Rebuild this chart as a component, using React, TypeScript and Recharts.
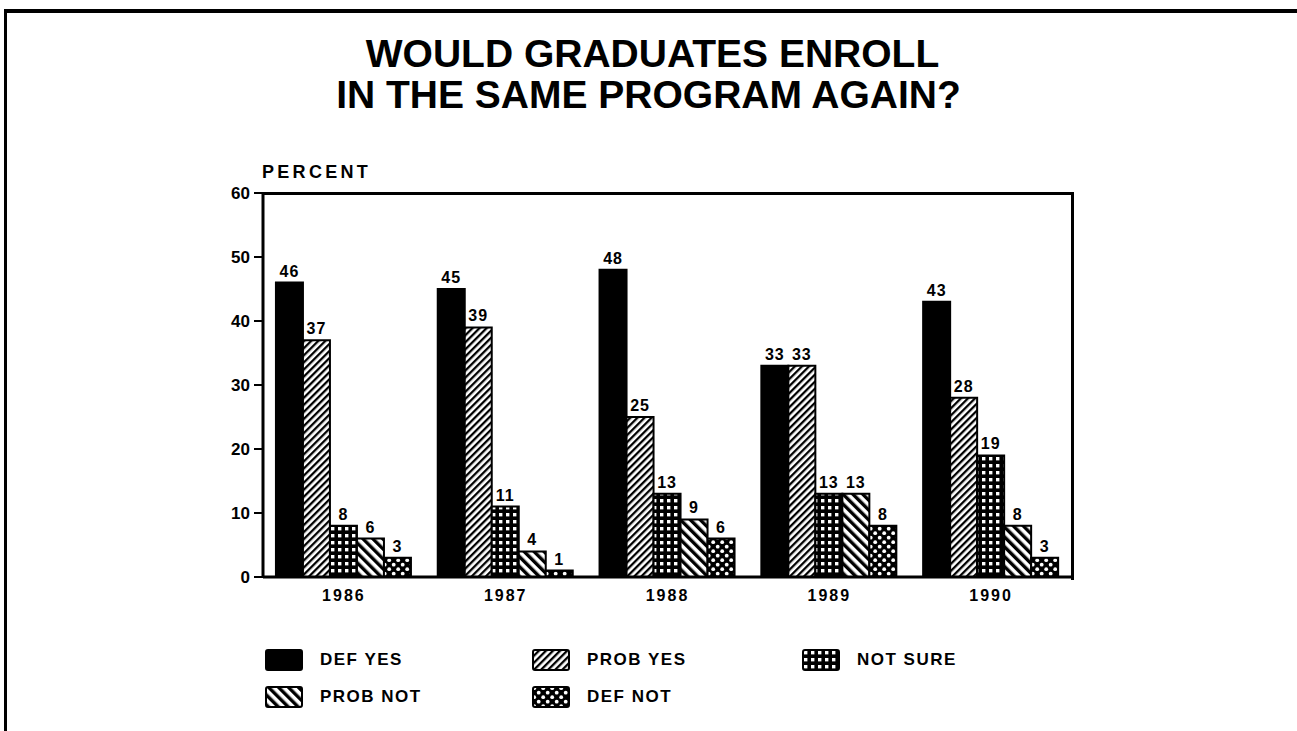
import React from 'react';
import { BarChart, Bar, XAxis, YAxis, LabelList } from 'recharts';

const years = ['1986', '1987', '1988', '1989', '1990'];
const defYes = [46, 45, 48, 33, 43];
const probYes = [37, 39, 25, 33, 28];
const notSure = [8, 11, 13, 13, 19];
const probNot = [6, 4, 9, 13, 8];
const defNot = [3, 1, 6, 8, 3];
const yTicks = [0, 10, 20, 30, 40, 50, 60];

const SERIES = [
  { key: 'defYes', name: 'DEF YES', fill: '#000' },
  { key: 'probYes', name: 'PROB YES', fill: 'url(#pProbYes)' },
  { key: 'notSure', name: 'NOT SURE', fill: 'url(#pNotSure)' },
  { key: 'probNot', name: 'PROB NOT', fill: 'url(#pProbNot)' },
  { key: 'defNot', name: 'DEF NOT', fill: 'url(#pDefNot)' },
];

const data = years.map((y, i) => ({
  year: y,
  defYes: defYes[i],
  probYes: probYes[i],
  notSure: notSure[i],
  probNot: probNot[i],
  defNot: defNot[i],
}));

const FONT = '"Liberation Sans", Arial, Helvetica, sans-serif';

// legend placement, [left, top] of each swatch
const LEGEND_POS: Record<string, [number, number]> = {
  'DEF YES': [265, 649],
  'PROB YES': [532, 649],
  'NOT SURE': [802, 649],
  'PROB NOT': [265, 686],
  'DEF NOT': [532, 686],
};

const Patterns = () => (
  <defs>
    <pattern id="pProbYes" patternUnits="userSpaceOnUse" width="5" height="5" patternTransform="rotate(45)">
      <rect width="5" height="5" fill="#fff" />
      <rect width="2.3" height="5" fill="#000" />
    </pattern>
    <pattern id="pProbNot" patternUnits="userSpaceOnUse" width="7" height="7" patternTransform="rotate(-45)">
      <rect width="7" height="7" fill="#fff" />
      <rect width="3.4" height="7" fill="#000" />
    </pattern>
    <pattern id="pNotSure" patternUnits="userSpaceOnUse" width="7" height="7">
      <rect width="7" height="7" fill="#000" />
      <rect x="2" y="2" width="3.4" height="3.4" fill="#fff" />
    </pattern>
    <pattern id="pDefNot" patternUnits="userSpaceOnUse" width="9" height="9">
      <rect width="9" height="9" fill="#000" />
      <circle cx="2.2" cy="2.2" r="1.9" fill="#fff" />
      <circle cx="6.7" cy="6.7" r="1.9" fill="#fff" />
    </pattern>
  </defs>
);

const labelStyle = { fontSize: 16, fontWeight: 700, fill: '#000', fontFamily: FONT, letterSpacing: 1 };

export default function App() {
  return (
    <div
      style={{
        position: 'absolute',
        left: 0,
        top: 0,
        width: 1297,
        height: 731,
        background: '#fff',
        fontFamily: FONT,
        overflow: 'hidden',
      }}
    >
      {/* page frame */}
      <div style={{ position: 'absolute', left: 4, top: 9, width: 1290, height: 740, borderTop: '4px solid #000', borderLeft: '3px solid #000', borderRight: '1px solid #000' }} />

      <div style={{ position: 'absolute', left: 0, width: 1297, top: 33, textAlign: 'center', fontSize: 39, fontWeight: 700, lineHeight: '41px', color: '#000' }}>
        <div style={{ marginLeft: 8 }}>WOULD GRADUATES ENROLL</div>
        <div>IN THE SAME PROGRAM AGAIN?</div>
      </div>

      <div style={{ position: 'absolute', left: 262, top: 162, fontSize: 18, fontWeight: 700, letterSpacing: 3.3, color: '#000' }}>PERCENT</div>

      <div style={{ position: 'absolute', left: 0, top: 0 }}>
        <BarChart
          width={1297}
          height={731}
          data={data}
          margin={{ top: 193, right: 225, left: 213, bottom: 124 }}
          barCategoryGap="8%"
          barGap={0}
        >
          <Patterns />
          <XAxis
            dataKey="year"
            height={30}
            tickLine={false}
            tickSize={0}
            tickMargin={13}
            axisLine={{ stroke: '#000', strokeWidth: 3 }}
            tick={{ fontSize: 16, fontWeight: 700, fill: '#000', fontFamily: FONT, letterSpacing: 2 }}
          />
          <YAxis
            width={50}
            type="number"
            domain={[0, 60]}
            ticks={yTicks}
            interval={0}
            tickSize={9}
            tickMargin={4}
            tickLine={{ stroke: '#000', strokeWidth: 2 }}
            axisLine={{ stroke: '#000', strokeWidth: 3 }}
            tick={{ fontSize: 17, fontWeight: 700, fill: '#000', fontFamily: FONT }}
          />
          {SERIES.map((s) => (
            <Bar key={s.key} dataKey={s.key} name={s.name} fill={s.fill} stroke="#000" strokeWidth={2} isAnimationActive={false}>
              <LabelList dataKey={s.key} position="top" offset={6} style={labelStyle} />
            </Bar>
          ))}
        </BarChart>
      </div>

      {/* plot box: top and right edges */}
      <div style={{ position: 'absolute', left: 262, top: 192, width: 809, height: 385, borderTop: '3px solid #000', borderRight: '3px solid #000', pointerEvents: 'none' }} />

      {SERIES.map((s) => {
        const [x, y] = LEGEND_POS[s.name];
        return (
          <div key={s.key} style={{ position: 'absolute', left: x, top: y, display: 'flex', alignItems: 'center' }}>
            <svg width={38} height={22} style={{ display: 'block' }}>
              <rect x={1} y={1} width={36} height={20} rx={2} fill={s.fill} stroke="#000" strokeWidth={2} />
            </svg>
            <span style={{ marginLeft: 17, fontSize: 17, fontWeight: 700, letterSpacing: 1.5, color: '#000' }}>{s.name}</span>
          </div>
        );
      })}
    </div>
  );
}
